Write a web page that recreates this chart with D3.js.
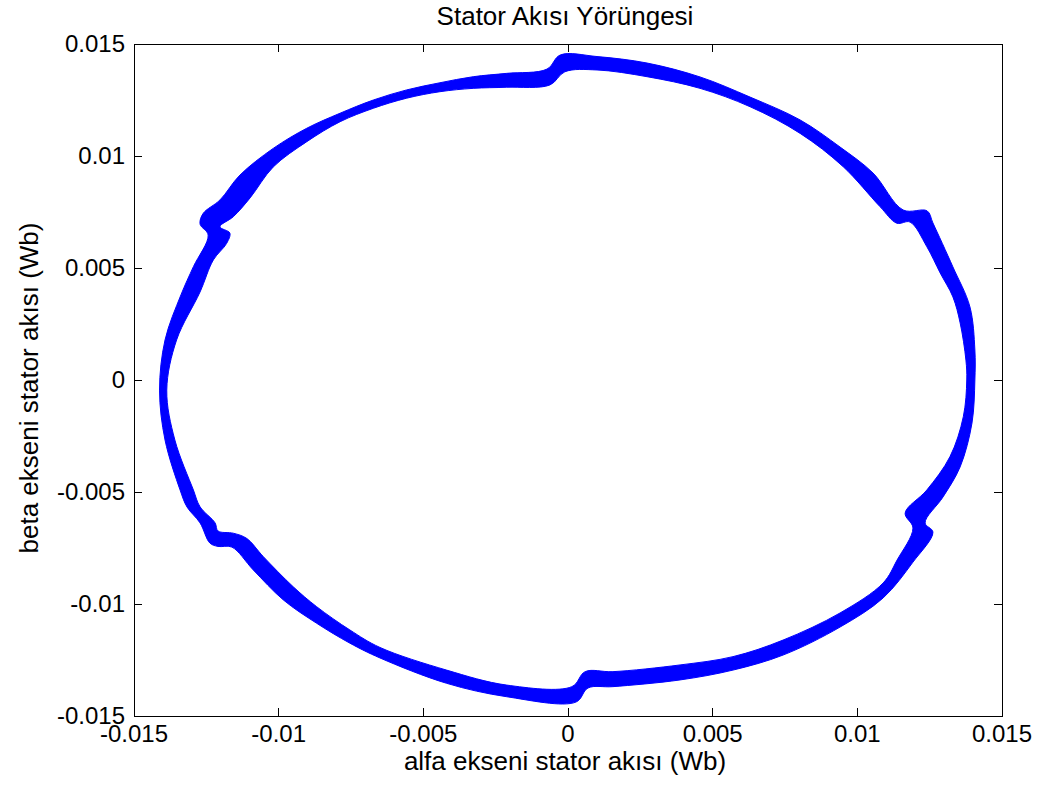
<!DOCTYPE html>
<html lang="tr">
<head>
<meta charset="UTF-8">
<title>Stator Akısı Yörüngesi</title>
<script src="https://d3js.org/d3.v7.min.js"></script>
<style>
  body { margin: 0; background: #ffffff; }
  svg { display: block; font-family: "Liberation Sans", Arial, sans-serif; }
  .axis path, .axis line { stroke: #000000; stroke-width: 1px; shape-rendering: crispEdges; }
  .axis text { font-size: 24px; fill: #000000; font-family: "Liberation Sans", Arial, sans-serif; }
  .label { font-size: 26px; fill: #000000; }
</style>
</head>
<body>
<svg id="chart"></svg>
<script>
  const width = 1046;
  const height = 796;
  const margin = { top: 44, right: 44.5, bottom: 80, left: 133.5 };

  // tick values and labels
  const xTicks = [-0.015, -0.01, -0.005, 0, 0.005, 0.01, 0.015];
  const xTickLabels = ["-0.015", "-0.01", "-0.005", "0", "0.005", "0.01", "0.015"];
  const yTicks = [-0.015, -0.01, -0.005, 0, 0.005, 0.01, 0.015];
  const yTickLabels = ["-0.015", "-0.01", "-0.005", "0", "0.005", "0.01", "0.015"];

  // outer edge of the flux band (alfa, beta in Wb), counter-clockwise
  const outerAlpha = [0.01408, 0.01408, 0.01391, 0.01332, 0.01263, 0.01243, 0.01160, 0.01056, 0.00942, 0.00804,
    0.00631, 0.00458, 0.00275, 0.00102, -0.00025, -0.00071, -0.00210, -0.00326, -0.00441, -0.00556,
    -0.00671, -0.00786, -0.00901, -0.01017, -0.01132, -0.01201, -0.01259, -0.01270, -0.01242, -0.01293,
    -0.01336, -0.01391, -0.01410, -0.01391, -0.01339, -0.01315, -0.01270, -0.01236, -0.01208, -0.01160,
    -0.01086, -0.00982, -0.00867, -0.00752, -0.00648, -0.00418, -0.00210, 0.00029, 0.00071, 0.00157,
    0.00389, 0.00572, 0.00745, 0.00942, 0.01091, 0.01194, 0.01263, 0.01236, 0.01298, 0.01357, 0.01398];
  const outerBeta = [0.00000, 0.00134, 0.00326, 0.00505, 0.00701, 0.00755, 0.00759, 0.00924, 0.01040, 0.01161,
    0.01263, 0.01353, 0.01415, 0.01444, 0.01451, 0.01388, 0.01369, 0.01354, 0.01327, 0.01295,
    0.01250, 0.01191, 0.01124, 0.01034, 0.00915, 0.00804, 0.00744, 0.00696, 0.00647, 0.00506,
    0.00380, 0.00179, -0.00045, -0.00268, -0.00491, -0.00567, -0.00638, -0.00728, -0.00743, -0.00746,
    -0.00848, -0.00982, -0.01086, -0.01175, -0.01241, -0.01354, -0.01414, -0.01438, -0.01375, -0.01369,
    -0.01339, -0.01295, -0.01228, -0.01103, -0.00973, -0.00813, -0.00679, -0.00638, -0.00522, -0.00388, -0.00192];

  // inner edge of the flux band
  const innerAlpha = [0.01380, 0.01377, 0.01357, 0.01332, 0.01288, 0.01242, 0.01184, 0.01138, 0.01080, 0.00953,
    0.00804, 0.00631, 0.00458, 0.00275, 0.00102, -0.00009, -0.00061, -0.00210, -0.00326, -0.00441,
    -0.00556, -0.00671, -0.00786, -0.00901, -0.01017, -0.01097, -0.01155, -0.01201, -0.01167, -0.01178,
    -0.01224, -0.01270, -0.01351, -0.01385, -0.01357, -0.01293, -0.01270, -0.01218, -0.01208, -0.01155,
    -0.01109, -0.01051, -0.00948, -0.00867, -0.00752, -0.00648, -0.00418, -0.00210, 0.00015, 0.00061,
    0.00157, 0.00389, 0.00572, 0.00745, 0.00942, 0.01091, 0.01139, 0.01194, 0.01167, 0.01242, 0.01322, 0.01368];
  const innerBeta = [0.00000, 0.00089, 0.00255, 0.00371, 0.00478, 0.00595, 0.00705, 0.00700, 0.00774, 0.00952,
    0.01101, 0.01220, 0.01302, 0.01354, 0.01384, 0.01376, 0.01317, 0.01307, 0.01302, 0.01287,
    0.01258, 0.01213, 0.01153, 0.01064, 0.00951, 0.00813, 0.00729, 0.00684, 0.00656, 0.00610,
    0.00536, 0.00393, 0.00179, -0.00045, -0.00268, -0.00491, -0.00566, -0.00638, -0.00674, -0.00684,
    -0.00707, -0.00789, -0.00923, -0.01012, -0.01116, -0.01194, -0.01295, -0.01362, -0.01369, -0.01302,
    -0.01302, -0.01272, -0.01235, -0.01161, -0.01040, -0.00906, -0.00804, -0.00661, -0.00594, -0.00491, -0.00342, -0.00164];

  const svg = d3.select("#chart")
    .attr("width", width)
    .attr("height", height);

  svg.append("rect")
    .attr("width", width)
    .attr("height", height)
    .attr("fill", "#ffffff");

  const x = d3.scaleLinear().domain([-0.015, 0.015]).range([margin.left, width - margin.right]);
  const y = d3.scaleLinear().domain([-0.015, 0.015]).range([height - margin.bottom, margin.top]);

  // flux band, drawn as a ring between the two edges
  const outer = outerAlpha.map((a, i) => [a, outerBeta[i]]);
  const inner = innerAlpha.map((a, i) => [a, innerBeta[i]]);

  const line = d3.line()
    .x(d => x(d[0]))
    .y(d => y(d[1]))
    .curve(d3.curveCatmullRomClosed.alpha(0.5));

  svg.append("path")
    .attr("d", line(outer) + line(inner))
    .attr("fill", "#0000ff")
    .attr("fill-rule", "evenodd")
    .attr("stroke", "#0000ff")
    .attr("stroke-width", 1);

  // axes, MATLAB style: box with inward ticks on all sides
  const tickLen = 8;

  svg.append("g")
    .attr("class", "axis")
    .attr("transform", `translate(0, ${y(-0.015)})`)
    .call(d3.axisBottom(x).tickValues(xTicks).tickSizeInner(-tickLen).tickSizeOuter(0)
      .tickPadding(9).tickFormat((d, i) => xTickLabels[i]));

  svg.append("g")
    .attr("class", "axis")
    .attr("transform", `translate(0, ${y(0.015)})`)
    .call(d3.axisTop(x).tickValues(xTicks).tickSizeInner(-tickLen).tickSizeOuter(0).tickFormat(""));

  svg.append("g")
    .attr("class", "axis")
    .attr("transform", `translate(${x(-0.015)}, 0)`)
    .call(d3.axisLeft(y).tickValues(yTicks).tickSizeInner(-tickLen).tickSizeOuter(0)
      .tickPadding(8.5).tickFormat((d, i) => yTickLabels[i]));

  svg.append("g")
    .attr("class", "axis")
    .attr("transform", `translate(${x(0.015)}, 0)`)
    .call(d3.axisRight(y).tickValues(yTicks).tickSizeInner(-tickLen).tickSizeOuter(0).tickFormat(""));

  // title and axis labels
  svg.append("text")
    .attr("class", "label")
    .attr("x", 565)
    .attr("y", 25)
    .attr("text-anchor", "middle")
    .text("Stator Akısı Yörüngesi");

  svg.append("text")
    .attr("class", "label")
    .attr("x", 565)
    .attr("y", 770)
    .attr("text-anchor", "middle")
    .text("alfa ekseni stator akısı (Wb)");

  svg.append("text")
    .attr("class", "label")
    .attr("transform", "translate(38, 388) rotate(-90)")
    .attr("text-anchor", "middle")
    .text("beta ekseni stator akısı (Wb)");
</script>
</body>
</html>
